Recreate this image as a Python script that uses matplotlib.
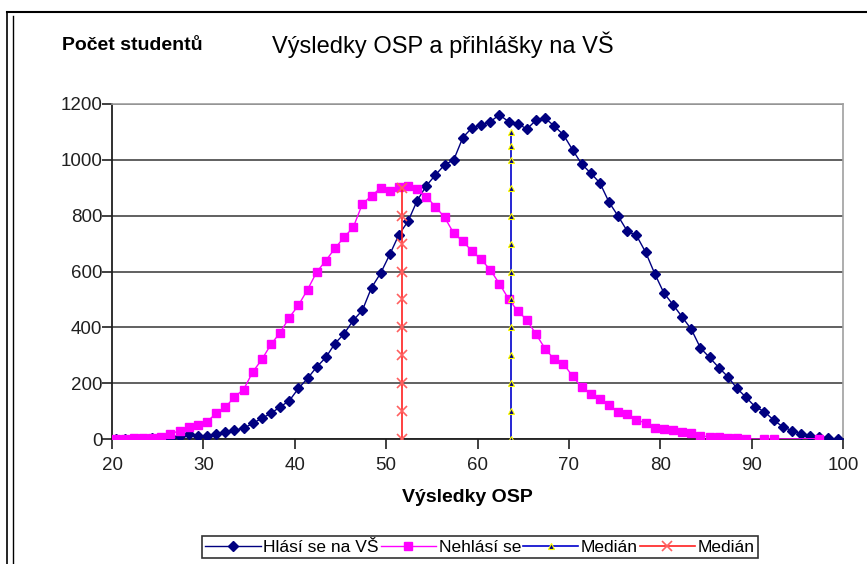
import numpy as np
import matplotlib.pyplot as plt
from matplotlib.lines import Line2D

plt.rcParams['font.family'] = ['Liberation Sans', 'DejaVu Sans']

# vysledky OSP (body) a pocty studentu
skore = list(range(20, 100))
hlasi = [0, 0, 1, 1, 2, 3, 4, 11, 18, 10,
         11, 18, 26, 32, 38, 56, 74, 92, 115, 137,
         181, 217, 258, 292, 342, 377, 425, 461, 542, 594,
         661, 732, 780, 854, 907, 946, 982, 1000, 1080, 1115,
         1125, 1137, 1161, 1137, 1130, 1110, 1142, 1149, 1121, 1090,
         1036, 985, 952, 917, 848, 798, 744, 729, 669, 592,
         523, 481, 437, 393, 326, 292, 256, 223, 181, 149,
         115, 98, 68, 44, 30, 18, 11, 8, 2, 0]
nehlasi = [0, 0, 2, 2, 2, 6, 18, 30, 42, 50,
           62, 92, 113, 151, 177, 240, 285, 339, 381, 435,
           479, 535, 598, 639, 683, 723, 758, 842, 871, 899,
           887, 904, 907, 895, 868, 832, 794, 737, 708, 673,
           643, 606, 556, 502, 458, 427, 375, 324, 285, 270,
           225, 187, 161, 142, 121, 98, 88, 68, 58, 38,
           36, 32, 26, 20, 11, 8, 6, 2, 2, 0,
           None, 0, 0, None, None, None, None, 1, None, None]

median_nehlasi = 51.7
median_nehlasi_y = [0, 100, 200, 300, 400, 500, 600, 700, 800, 900]
median_hlasi = 63.7
median_hlasi_y = [0, 100, 200, 300, 400, 500, 600, 700, 800, 900, 1000, 1050, 1100]

posun = 0.4  # body jsou vykresleny uprostred intervalu

fig = plt.figure(figsize=(8.67, 5.64), dpi=100)
ax = fig.add_axes([112/867, 1-439/564, (843-112)/867, (439-104)/564])

x = np.array(skore) + posun
ax.plot(x, hlasi, color='#000080', lw=1.0, marker='D', ms=5.5,
        mfc='#000080', mec='#000080', label='Hlásí se na VŠ', zorder=3)

neh = np.array([np.nan if v is None else v for v in nehlasi], dtype=float)
ok = ~np.isnan(neh)
ax.plot(x[ok], neh[ok], color='#ff00ff', lw=1.0, marker='s', ms=6,
        mfc='#ff00ff', mec='#ff00ff', label='Nehlásí se', zorder=3)

ax.plot([median_hlasi]*len(median_hlasi_y), median_hlasi_y, color='#0000cc', lw=1.2,
        marker='^', ms=5, mfc='#000080', mec='#ffff00', mew=0.8, label='Medián', zorder=4)
ax.plot([median_nehlasi]*len(median_nehlasi_y), median_nehlasi_y, color='#ff2020', lw=1.2,
        marker='x', ms=7, mec='#ff6060', mew=1.2, label='Medián', zorder=4)

ax.set_xlim(20, 100)
ax.set_ylim(0, 1200)
ax.set_xticks(range(20, 101, 10))
ax.set_yticks(range(0, 1201, 200))
ax.tick_params(axis='both', direction='out', length=7, width=1.2, labelsize=13.5,
               color='#202020', labelcolor='#202020')
ax.tick_params(axis='y', pad=0)
ax.tick_params(axis='x', pad=6)
ax.yaxis.grid(True, color='#606060', lw=1.4)
ax.set_axisbelow(True)
for s in ['left', 'bottom']:
    ax.spines[s].set_color('#202020')
    ax.spines[s].set_linewidth(1.3)
for s in ['top', 'right']:
    ax.spines[s].set_color('#a0a0a0')
    ax.spines[s].set_linewidth(1.2)

fig.text(62/867, 1-45/564, 'Počet studentů', fontsize=14, ha='left', va='center',
         fontweight='bold')
fig.text(272/867, 1-45/564, 'Výsledky OSP a přihlášky na VŠ', fontsize=17,
         ha='left', va='center')
fig.text(467/867, 1-497/564, 'Výsledky OSP', fontsize=14, fontweight='bold',
         ha='center', va='center')

leg = fig.legend(loc='center', bbox_to_anchor=(480/867, 1-547/564), ncol=4,
                 fontsize=12.5, frameon=True, fancybox=False, edgecolor='black',
                 handlelength=3.2, handletextpad=0.15, columnspacing=0.1,
                 borderpad=0.2, borderaxespad=0)
leg.get_frame().set_linewidth(1.2)

# ramecek grafu
fig.add_artist(Line2D([7/867, 7/867], [0, 1-12/564], color='black', lw=1.2))
fig.add_artist(Line2D([13/867, 13/867], [0, 1-16/564], color='black', lw=1.0))
fig.add_artist(Line2D([7/867, 1], [1-12/564, 1-12/564], color='black', lw=1.5))

fig.savefig('out.png', dpi=100)
